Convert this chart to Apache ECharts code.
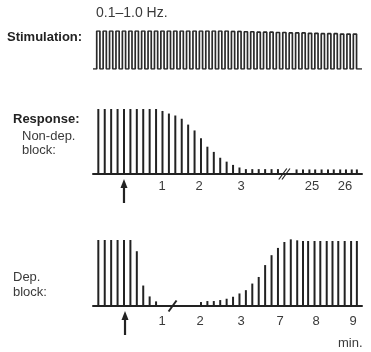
<!DOCTYPE html>
<html>
<head>
<meta charset="utf-8">
<script src="https://cdn.jsdelivr.net/npm/echarts@6/dist/echarts.min.js"></script>
<style>
html,body{margin:0;padding:0;background:#fff;}
#container{width:371px;height:352px;}
</style>
</head>
<body>
<div id="container"></div>
<script>
// stimulus pulse amplitudes (relative), one per pulse
var stimAmp = [1,1,1,1,1,1,1,1,1,1,1,1,1,1,1,1,1,1,1,1,1,
    0.99,0.99,0.98,0.98,0.97,0.97,0.97,0.96,0.96,0.95,0.95,0.95,0.94,0.94,0.93,0.93,0.93,0.92,0.92,0.92];

// non-depolarizing block: response height (% of control) at stimulus position
var nonDepX = [1,2,3,4,5,6,7,8,9,10,11,12,13,14,15,16,17,18,19,20,21,22,23,24,25,26,27,28,29,
    31.9,32.9,33.9,34.8,35.8,36.8,37.7,38.7,39.6,40.5,41.3];
var nonDepY = [100,100,100,100,100,100,100,100,100,100,97,93,90,85,76,67,55,42,34,25,19,14,10,7.5,7.5,7.5,7.5,7.5,7.5,
    7,7,7,7,7,7,7,7,7,7,7];
var nonDepTicks = ['1', '2', '3', '25', '26'];
var nonDepTickPos = [10.94, 16.71, 23.26, 34.3, 39.44];
var nonDepBreak = 30;
var nonDepArrow = 5;

// depolarizing block
var depX = [1,2,3,4,5,6,7,8,9,10,
    17,18,19,20,21,22,23,24,25,26,27,28,29,30,31,32,
    32.9,33.7,34.7,35.6,36.6,37.5,38.4,39.4,40.4,41.3];
var depY = [100,100,100,100,100,100,83,31,14.5,7,
    6,7.5,7.5,9,11,14,19,24,34,44,62,77,88,97,101,99.5,
    98.5,98.5,98.5,98.5,98.5,98.5,98.5,98.5,98.5,98.5];
var depTicks = ['1', '2', '3', '7', '8', '9'];
var depTickPos = [10.94, 16.85, 23.25, 29.33, 34.94, 40.7];
var depBreak = 12.57;
var depArrow = 5.16;

var X_MIN = 0.17, X_MAX = 42.1;
var FONT = '"Liberation Sans", Arial, sans-serif';
var INK = '#222';

var dom = document.getElementById('container');
var myChart = echarts.init(dom);

var stimData = [[X_MIN, 0]];
stimAmp.forEach(function (a, i) {
    var s = i + 1;
    stimData.push([s - 0.25, 0], [s - 0.25, a], [s + 0.25, a], [s + 0.25, 0]);
});
stimData.push([X_MAX, 0]);

function pairs(xs, ys) {
    return xs.map(function (x, i) { return [x, ys[i]]; });
}

function tickFormatter(pos, names) {
    return function (v) {
        var best = 0;
        for (var i = 1; i < pos.length; i++) {
            if (Math.abs(pos[i] - v) < Math.abs(pos[best] - v)) best = i;
        }
        return names[best];
    };
}

function makeBreak(offsets, width) {
    return function (params, api) {
        var p = api.coord([api.value(0), 0]);
        return {
            type: 'group',
            children: offsets.map(function (d) {
                return {
                    type: 'line',
                    shape: {x1: p[0] + d - 4, y1: p[1] + 5.5, x2: p[0] + d + 4, y2: p[1] - 5.5},
                    style: {stroke: INK, lineWidth: width}
                };
            })
        };
    };
}

function renderArrow(params, api) {
    var p = api.coord([api.value(0), 0]);
    var tip = p[1] + 5;
    return {
        type: 'group',
        children: [
            {type: 'line', shape: {x1: p[0], y1: tip + 6, x2: p[0], y2: tip + 24},
                style: {stroke: INK, lineWidth: 2.2}},
            {type: 'polygon', shape: {points: [[p[0], tip], [p[0] - 3.5, tip + 9], [p[0] + 3.5, tip + 9]]},
                style: {fill: INK}}
        ]
    };
}

function shownX(grid, pos, names, margin) {
    return {
        gridIndex: grid, type: 'value', min: X_MIN, max: X_MAX,
        axisLine: {show: true, onZero: false, lineStyle: {color: INK, width: 2}},
        axisTick: {show: false},
        splitLine: {show: false},
        axisLabel: {
            customValues: pos,
            formatter: tickFormatter(pos, names),
            margin: margin, color: '#3a3a3a', fontSize: 13, fontFamily: FONT
        }
    };
}

var textStyle = function (txt, bold, size) {
    return {text: txt, font: (bold ? 'bold ' : '') + (size || 13) + 'px ' + FONT,
        fill: bold ? '#222' : '#3a3a3a', verticalAlign: 'middle'};
};

option = {
    animation: false,
    backgroundColor: '#fff',
    grid: [
        {left: 93, right: 9, top: 31, height: 38},
        {left: 93, right: 9, top: 109, height: 65},
        {left: 93, right: 9, top: 240, height: 66}
    ],
    xAxis: [
        {gridIndex: 0, type: 'value', min: X_MIN, max: X_MAX, show: false},
        shownX(1, nonDepTickPos, nonDepTicks, 6),
        shownX(2, depTickPos, depTicks, 9)
    ],
    yAxis: [
        {gridIndex: 0, type: 'value', min: 0, max: 1, show: false},
        {gridIndex: 1, type: 'value', min: 0, max: 100, show: false},
        {gridIndex: 2, type: 'value', min: 0, max: 100, show: false}
    ],
    graphic: [
        {type: 'text', x: 96, y: 13, style: textStyle('0.1–1.0 Hz.', false, 14)},
        {type: 'text', x: 7, y: 37, style: textStyle('Stimulation:', true)},
        {type: 'text', x: 13, y: 119, style: textStyle('Response:', true)},
        {type: 'text', x: 22, y: 136, style: textStyle('Non-dep.')},
        {type: 'text', x: 22, y: 150, style: textStyle('block:')},
        {type: 'text', x: 13, y: 277, style: textStyle('Dep.')},
        {type: 'text', x: 13, y: 292, style: textStyle('block:')},
        {type: 'text', x: 338, y: 343, style: textStyle('min.')}
    ],
    series: [
        {
            name: 'stimulation', type: 'line', xAxisIndex: 0, yAxisIndex: 0,
            data: stimData, symbol: 'none',
            lineStyle: {color: '#2a2a2a', width: 1.7}
        },
        {
            name: 'non-dep', type: 'bar', xAxisIndex: 1, yAxisIndex: 1,
            data: pairs(nonDepX, nonDepY), barWidth: 2, clip: false,
            itemStyle: {color: INK}
        },
        {
            name: 'dep', type: 'bar', xAxisIndex: 2, yAxisIndex: 2,
            data: pairs(depX, depY), barWidth: 2, clip: false,
            itemStyle: {color: INK}
        },
        {
            type: 'custom', xAxisIndex: 1, yAxisIndex: 1, clip: false,
            data: [[nonDepBreak, 0]], renderItem: makeBreak([-1.6, 1.6], 1.2)
        },
        {
            type: 'custom', xAxisIndex: 2, yAxisIndex: 2, clip: false,
            data: [[depBreak, 0]], renderItem: makeBreak([0], 2)
        },
        {
            type: 'custom', xAxisIndex: 1, yAxisIndex: 1, clip: false,
            data: [[nonDepArrow, 0]], renderItem: renderArrow
        },
        {
            type: 'custom', xAxisIndex: 2, yAxisIndex: 2, clip: false,
            data: [[depArrow, 0]], renderItem: renderArrow
        }
    ]
};

if (option && typeof option === 'object') {
    myChart.setOption(option, true);
}
</script>
</body>
</html>
